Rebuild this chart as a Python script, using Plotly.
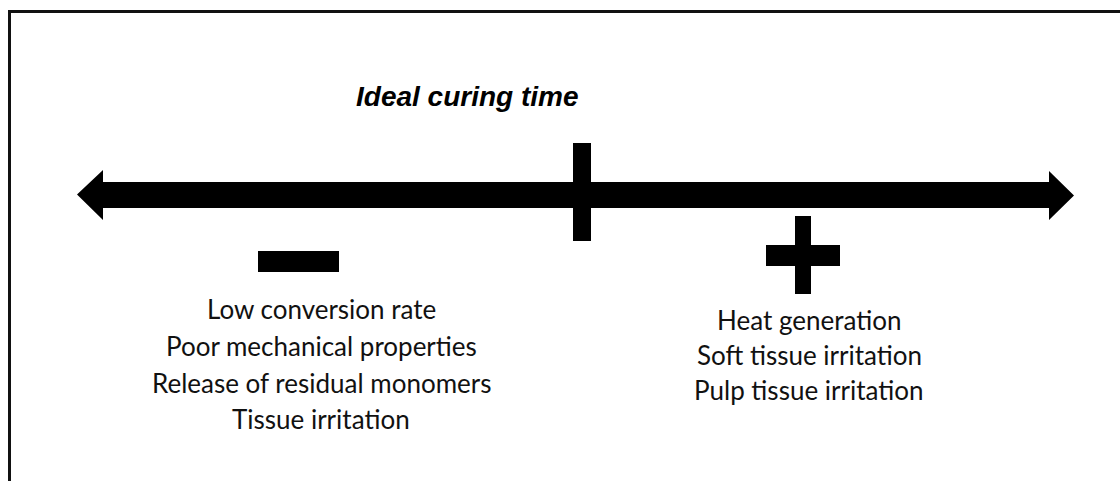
import plotly.graph_objects as go

W, H = 1120, 481

title_text = "Ideal curing time"
left_items = ["Low conversion rate", "Poor mechanical properties",
              "Release of residual monomers", "Tissue irritation"]
right_items = ["Heat generation", "Soft tissue irritation", "Pulp tissue irritation"]

# layout positions (pixels)
left_x, left_y = 321, [309, 346, 383, 419]
right_x, right_y = 809, [320, 355, 390]

fig = go.Figure()
fig.add_trace(go.Scatter(x=[0, W], y=[0, H], mode="markers",
                         marker=dict(opacity=0), hoverinfo="skip", showlegend=False))

shapes = []
# frame: top and left lines
shapes.append(dict(type="line", x0=8, x1=W, y0=11.5, y1=11.5, line=dict(color="#111", width=3)))
shapes.append(dict(type="line", x0=9.5, x1=9.5, y0=10, y1=H, line=dict(color="#111", width=3)))
# double arrow
arrow_path = ("M 77 194.5 L 103 170 L 103 182 L 1049 182 L 1049 171 L 1074 195.5 "
              "L 1049 220 L 1049 208 L 103 208 L 103 220 Z")
shapes.append(dict(type="path", path=arrow_path, fillcolor="black", line=dict(width=0)))
# vertical tick
shapes.append(dict(type="rect", x0=573, x1=591, y0=143, y1=241, fillcolor="black", line=dict(width=0)))
# minus
shapes.append(dict(type="rect", x0=258, x1=339, y0=251, y1=272, fillcolor="black", line=dict(width=0)))
# plus
shapes.append(dict(type="rect", x0=766, x1=840, y0=245, y1=266, fillcolor="black", line=dict(width=0)))
shapes.append(dict(type="rect", x0=795, x1=811, y0=216, y1=294, fillcolor="black", line=dict(width=0)))

annotations = []
annotations.append(dict(x=467.5, y=96, xref="x", yref="y", text="<b><i>" + title_text + "</i></b>",
                        showarrow=False, xanchor="center", yanchor="middle",
                        font=dict(family="Liberation Sans, Arial", size=28, color="black")))
for t, yy in zip(left_items, left_y):
    annotations.append(dict(x=left_x, y=yy, xref="x", yref="y", text=t, showarrow=False,
                            xanchor="center", yanchor="middle",
                            font=dict(family="Lato", size=26, color="#111")))
for t, yy in zip(right_items, right_y):
    annotations.append(dict(x=right_x, y=yy, xref="x", yref="y", text=t, showarrow=False,
                            xanchor="center", yanchor="middle",
                            font=dict(family="Lato", size=26, color="#111")))

fig.update_layout(
    width=W, height=H, margin=dict(l=0, r=0, t=0, b=0),
    paper_bgcolor="white", plot_bgcolor="white",
    xaxis=dict(range=[0, W], visible=False, fixedrange=True),
    yaxis=dict(range=[H, 0], visible=False, fixedrange=True),
    shapes=shapes, annotations=annotations, showlegend=False,
)
fig.write_html("out.html", config={"displayModeBar": False},
               post_script="document.body.style.margin='0';document.body.style.overflow='hidden';")
